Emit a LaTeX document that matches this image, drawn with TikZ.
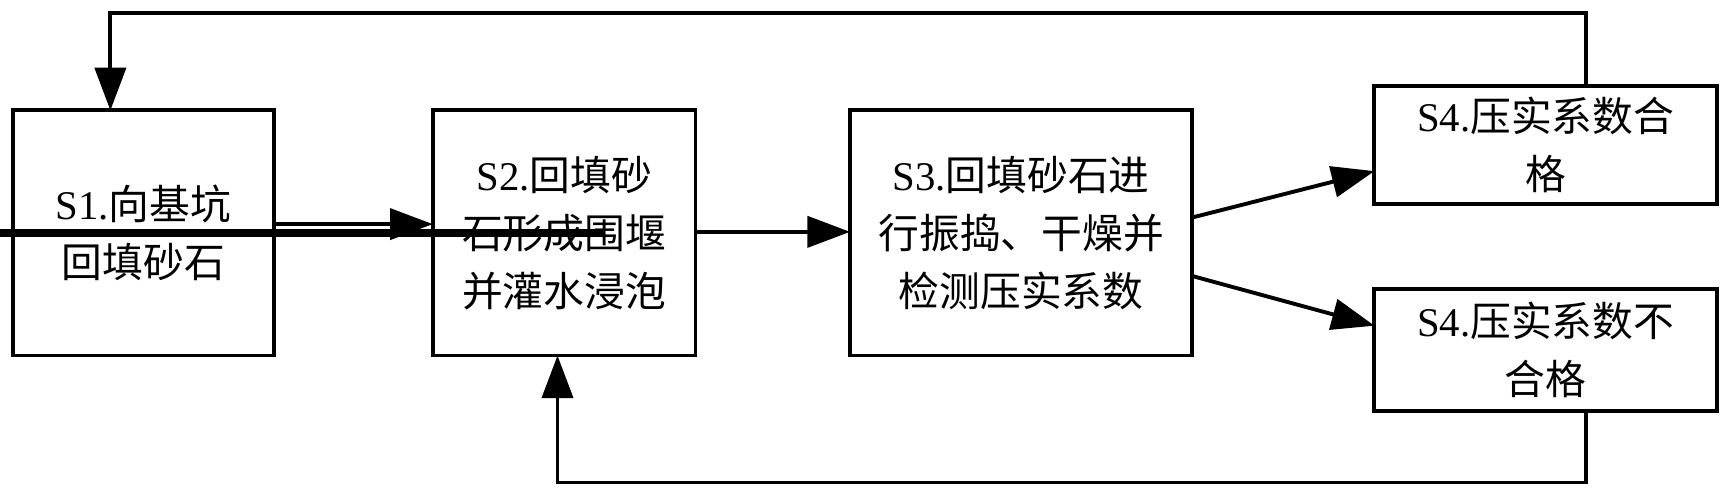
\documentclass[tikz,border=0pt]{standalone}
\usepackage{fontspec}
\setmainfont{Liberation Serif}
\newfontfamily\cjk{Noto Sans CJK SC}
\usetikzlibrary{arrows.meta}
\begin{document}
\begin{tikzpicture}[x=0.01cm,y=-0.01cm,
  box/.style={draw,line width=1pt,inner sep=0pt,align=center,font=\fontsize{10.5pt}{15pt}\selectfont},
  arr/.style={line width=1pt,-{Triangle[length=11pt,width=8pt]}}]
\useasboundingbox (0,0) rectangle (1568,453);
\node[box,minimum width=236\pgflinewidth,text width=2cm] at (130,211) (s1) {};
\draw[line width=1pt] (12,100) rectangle (248,322);
\node[align=center,font=\fontsize{10.5pt}{15pt}\selectfont] at (130,211) {S1.{\cjk 向基坑}\\{\cjk 回填砂石}};
\draw[line width=1pt] (392,100) rectangle (630,322);
\node[align=center,font=\fontsize{10.5pt}{15pt}\selectfont] (s2) at (511,211) {S2.{\cjk 回填砂}\\{\cjk 石形成围堰}\\{\cjk 并灌水浸泡}};
\draw[line width=1pt] (770,100) rectangle (1080,322);
\node[align=center,font=\fontsize{10.5pt}{15pt}\selectfont] (s3) at (925,211) {S3.{\cjk 回填砂石进}\\{\cjk 行振捣、干燥并}\\{\cjk 检测压实系数}};
\draw[line width=1pt] (1245,78) rectangle (1555,185);
\node[align=center,font=\fontsize{10.5pt}{15pt}\selectfont] (s4a) at (1400,131) {S4.{\cjk 压实系数合}\\{\cjk 格}};
\draw[line width=1pt] (1245,262) rectangle (1555,372);
\node[align=center,font=\fontsize{10.5pt}{15pt}\selectfont] (s4b) at (1400,317) {S4.{\cjk 压实系数不}\\{\cjk 合格}};
\coordinate (a1) at (248,203); \coordinate (a2) at (392,203);
\coordinate (b1) at (630,210); \coordinate (b2) at (770,210);
\coordinate (c1) at (1080,197); \coordinate (c2) at (1245,155);
\coordinate (d1) at (1080,250); \coordinate (d2) at (1245,295);
\draw[arr] (a1) -- (a2);
\draw[arr] (b1) -- (b2);
\draw[arr] (c1) -- (c2);
\draw[arr] (d1) -- (d2);
\coordinate (t1) at (1437,78); \coordinate (t2) at (100,100);
\draw[arr] (t1) -- (1437,12) -- (100,12) -- (t2);
\coordinate (u1) at (1437,372); \coordinate (u2) at (505,322);
\draw[arr] (u1) -- (1437,437) -- (505,437) -- (u2);
\end{tikzpicture}
\end{document}
